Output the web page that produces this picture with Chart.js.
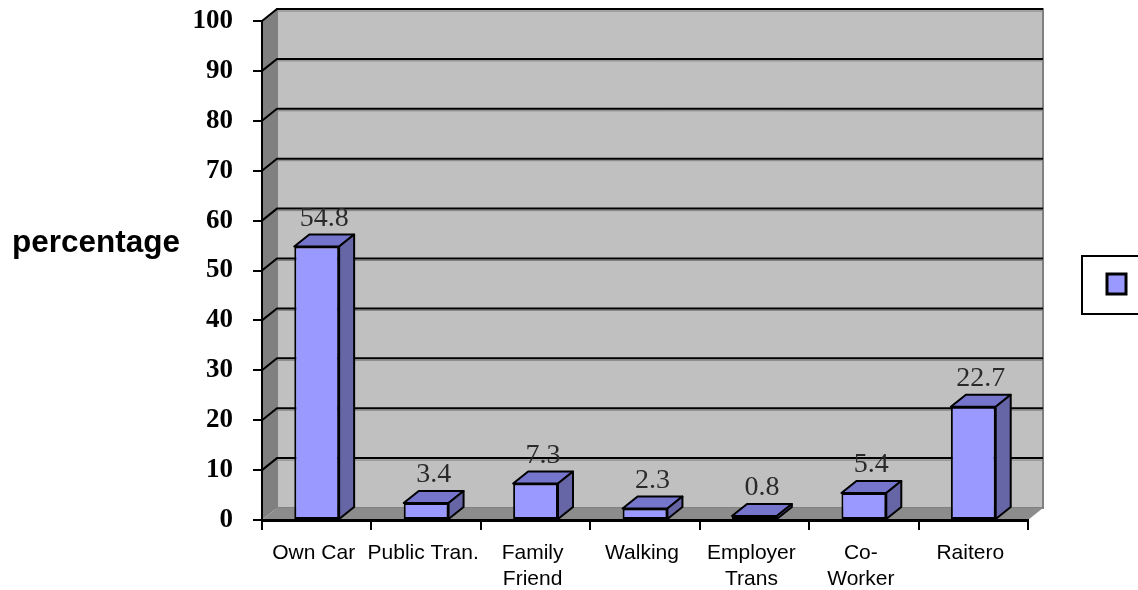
<!DOCTYPE html>
<html>
<head>
<meta charset="utf-8">
<script src="https://cdn.jsdelivr.net/npm/chart.js@4.4.1/dist/chart.umd.min.js"></script>
<style>
  html, body { margin: 0; padding: 0; background: #fff; }
</style>
</head>
<body>
<canvas id="myChart1" width="1138" height="590"></canvas>
<script>
const categories = [['Own Car'], ['Public Tran.'], ['Family', 'Friend'], ['Walking'], ['Employer', 'Trans'], ['Co-', 'Worker'], ['Raitero']];
const values = [54.8, 3.4, 7.3, 2.3, 0.8, 5.4, 22.7];
const yMin = 0, yMax = 100, yStep = 10;
const yTitle = 'percentage';

// depth of the fake 3d box
const DX = 15, DY = -12;

function poly(ctx, pts) {
  ctx.beginPath();
  ctx.moveTo(pts[0][0], pts[0][1]);
  for (let i = 1; i < pts.length; i++) ctx.lineTo(pts[i][0], pts[i][1]);
  ctx.closePath();
}

// walls, floor and the back gridlines
const walls = {
  id: 'walls',
  beforeDraw(chart) {
    const ctx = chart.ctx, a = chart.chartArea, y = chart.scales.y;
    ctx.save();
    ctx.fillStyle = '#c0c0c0';
    ctx.fillRect(a.left + DX, a.top + DY, a.right - a.left, a.bottom - a.top);
    ctx.strokeStyle = '#808080';
    ctx.lineWidth = 2;
    ctx.strokeRect(a.left + DX, a.top + DY, a.right - a.left, a.bottom - a.top);

    ctx.fillStyle = '#808080';
    poly(ctx, [[a.left, a.top], [a.left + DX, a.top + DY], [a.left + DX, a.bottom + DY], [a.left, a.bottom]]);
    ctx.fill();
    ctx.fillStyle = '#8c8c8c';
    poly(ctx, [[a.left, a.bottom], [a.left + DX, a.bottom + DY], [a.right + DX, a.bottom + DY], [a.right, a.bottom]]);
    ctx.fill();

    for (let v = yMin + yStep; v <= yMax; v += yStep) {
      const py = y.getPixelForValue(v);
      ctx.strokeStyle = '#808080';
      ctx.lineWidth = 1;
      ctx.beginPath();
      ctx.moveTo(a.left + DX, py + DY + 2);
      ctx.lineTo(a.right + DX, py + DY + 2);
      ctx.stroke();
      ctx.strokeStyle = '#000';
      ctx.lineWidth = 2;
      ctx.beginPath();
      ctx.moveTo(a.left, py);
      ctx.lineTo(a.left + DX, py + DY);
      ctx.lineTo(a.right + DX, py + DY);
      ctx.stroke();
    }
    ctx.restore();
  }
};

// top and side faces of each bar, plus value labels
const bars3d = {
  id: 'bars3d',
  afterDatasetsDraw(chart) {
    const ctx = chart.ctx;
    const meta = chart.getDatasetMeta(0);
    ctx.save();
    ctx.lineWidth = 2;
    ctx.strokeStyle = '#000';
    ctx.lineJoin = 'round';
    meta.data.forEach((bar, i) => {
      const p = bar.getProps(['x', 'y', 'base', 'width'], true);
      const l = p.x - p.width / 2, r = p.x + p.width / 2;
      ctx.fillStyle = '#7575cc';
      poly(ctx, [[l, p.y], [l + DX, p.y + DY], [r + DX, p.y + DY], [r, p.y]]);
      ctx.fill(); ctx.stroke();
      ctx.fillStyle = '#6666a6';
      poly(ctx, [[r, p.y], [r + DX, p.y + DY], [r + DX, p.base + DY], [r, p.base]]);
      ctx.fill(); ctx.stroke();

      ctx.fillStyle = '#2a2a2a';
      ctx.font = '28px "Liberation Serif", serif';
      ctx.textAlign = 'center';
      ctx.textBaseline = 'bottom';
      ctx.fillText(String(values[i]), p.x + DX / 2, p.y + DY - 2);
    });
    ctx.restore();
  },
  afterDraw(chart) {
    const ctx = chart.ctx, a = chart.chartArea;
    ctx.save();
    ctx.fillStyle = '#000';
    ctx.font = 'bold 31.5px "Liberation Sans", Arial, sans-serif';
    ctx.textAlign = 'left';
    ctx.textBaseline = 'alphabetic';
    ctx.fillText(yTitle, 12, 252);

    // legend (series has no name)
    ctx.fillStyle = '#fff';
    ctx.strokeStyle = '#000';
    ctx.lineWidth = 2;
    ctx.fillRect(a.right + 54, 256, 80, 58);
    ctx.strokeRect(a.right + 54, 256, 80, 58);
    ctx.fillStyle = '#9999ff';
    ctx.lineWidth = 3;
    ctx.fillRect(a.right + 79, 274, 19, 20);
    ctx.strokeRect(a.right + 79, 274, 19, 20);
    ctx.restore();
  }
};

const ctx1 = document.getElementById('myChart1');

new Chart(ctx1, {
  type: 'bar',
  data: {
    labels: categories,
    datasets: [{
      label: '',
      data: values,
      backgroundColor: '#9999ff',
      borderColor: '#000',
      borderWidth: 2,
      borderSkipped: false,
      barPercentage: 0.41,
      categoryPercentage: 1
    }]
  },
  options: {
    responsive: false,
    animation: false,
    layout: { padding: { left: 0, top: 21, right: 110, bottom: 0 } },
    plugins: { legend: { display: false }, tooltip: { enabled: false } },
    scales: {
      y: {
        min: yMin,
        max: yMax,
        afterFit(scale) {
          scale.width = 262;
          scale.paddingTop = 0;
          scale.paddingBottom = 0;
        },
        ticks: {
          stepSize: yStep,
          padding: 20,
          color: '#000',
          font: { family: '"Liberation Serif", serif', size: 27, weight: 'bold' }
        },
        grid: { display: true, drawOnChartArea: false, drawTicks: true, tickLength: 9, color: '#000', lineWidth: 2 },
        border: { display: true, color: '#000', width: 2 }
      },
      x: {
        afterFit(scale) {
          scale.height = 70;
          scale.paddingLeft = 0;
          scale.paddingRight = 0;
        },
        ticks: {
          padding: 10,
          labelOffset: -3,
          color: '#000',
          maxRotation: 0,
          autoSkip: false,
          font: { family: '"Liberation Sans", Arial, sans-serif', size: 21, lineHeight: 1.24 }
        },
        grid: { display: true, drawOnChartArea: false, drawTicks: true, tickLength: 10, color: '#000', lineWidth: 2 },
        border: { display: true, color: '#000', width: 3 }
      }
    }
  },
  plugins: [walls, bars3d]
});
</script>
</body>
</html>
